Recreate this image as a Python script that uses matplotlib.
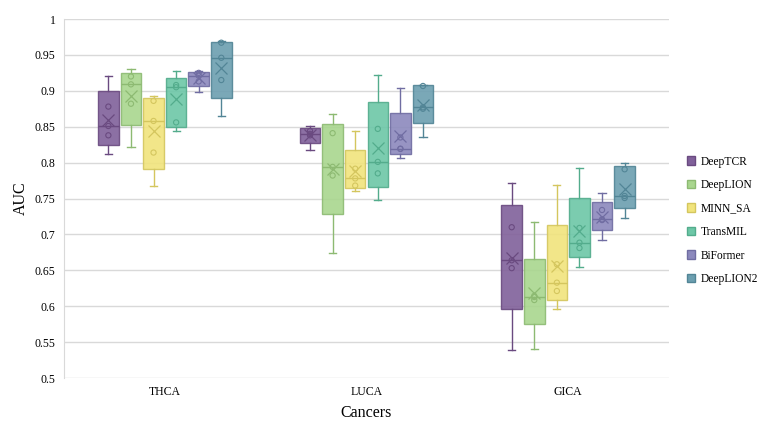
import numpy as np
import matplotlib
matplotlib.use("Agg")
import matplotlib.pyplot as plt
from matplotlib.patches import Patch

plt.rcParams['font.family'] = ['Liberation Serif', 'DejaVu Serif']

cancers = ['THCA', 'LUCA', 'GICA']
models = ['DeepTCR', 'DeepLION', 'MINN_SA', 'TransMIL', 'BiFormer', 'DeepLION2']
fills = ['#80609A', '#A9D68E', '#F1E47C', '#6DC7A7', '#8C89BD', '#6C9FB0']
edges = ['#6A4A80', '#8DBA72', '#D4C65E', '#53AC8C', '#706DA2', '#528596']

# five AUC values per model (one per fold)
thca = {
    'DeepTCR':   [0.812, 0.838, 0.851, 0.878, 0.921],
    'DeepLION':  [0.822, 0.882, 0.909, 0.920, 0.930],
    'MINN_SA':   [0.768, 0.814, 0.858, 0.886, 0.893],
    'TransMIL':  [0.844, 0.856, 0.905, 0.908, 0.928],
    'BiFormer':  [0.899, 0.913, 0.921, 0.925, 0.928],
    'DeepLION2': [0.865, 0.915, 0.946, 0.967, 0.969],
}
luca = {
    'DeepTCR':   [0.817, 0.838, 0.840, 0.844, 0.851],
    'DeepLION':  [0.674, 0.782, 0.794, 0.841, 0.867],
    'MINN_SA':   [0.761, 0.768, 0.778, 0.7915, 0.8445],
    'TransMIL':  [0.748, 0.785, 0.801, 0.847, 0.922],
    'BiFormer':  [0.806, 0.819, 0.8194, 0.835, 0.904],
    'DeepLION2': [0.835, 0.875, 0.877, 0.9067, 0.9085],
}
gica = {
    'DeepTCR':   [0.539, 0.653, 0.664, 0.710, 0.771],
    'DeepLION':  [0.541, 0.6086, 0.6128, 0.6144, 0.717],
    'MINN_SA':   [0.5957, 0.6212, 0.6328, 0.6584, 0.7688],
    'TransMIL':  [0.655, 0.681, 0.6885, 0.709, 0.793],
    'BiFormer':  [0.6922, 0.720, 0.721, 0.734, 0.7572],
    'DeepLION2': [0.7224, 0.7507, 0.7535, 0.7907, 0.800],
}
results = [thca, luca, gica]

pitch = 0.112
width = 0.102

fig = plt.figure(figsize=(7.62, 4.23), dpi=100)
ax = fig.add_axes([64 / 762, 45 / 423, 605 / 762, 359 / 423])

for i, res in enumerate(results):
    for j, m in enumerate(models):
        vals = np.sort(np.array(res[m]))
        # excel style exclusive quartiles
        q1, med, q3 = np.percentile(vals, [25, 50, 75], method='weibull')
        st = dict(med=med, q1=q1, q3=q3, whislo=vals.min(), whishi=vals.max(),
                  mean=vals.mean(), fliers=[])
        pos = i + 0.5 + (j - 2.5) * pitch
        ax.bxp([st], positions=[pos], widths=width, patch_artist=True,
               showmeans=True, showfliers=False, manage_ticks=False,
               boxprops=dict(facecolor=fills[j], edgecolor=edges[j], linewidth=1, alpha=0.9),
               medianprops=dict(color=edges[j], linewidth=1),
               whiskerprops=dict(color=edges[j], linewidth=1),
               capprops=dict(color=edges[j], linewidth=1),
               capwidths=width * 0.35,
               meanprops=dict(marker='x', markeredgecolor=edges[j], markersize=8.5,
                              markeredgewidth=0.9))
        # inner points only (whisker ends carry no marker)
        inner = vals[1:-1]
        ax.scatter(np.full(len(inner), pos), inner, s=14, facecolors='none',
                   edgecolors=edges[j], linewidths=0.8, zorder=4)

ax.set_xlim(0, 3)
ax.set_ylim(0.5, 1)
ax.set_yticks(np.arange(0.5, 1.001, 0.05))
ax.set_yticklabels(['0.5', '0.55', '0.6', '0.65', '0.7', '0.75', '0.8', '0.85',
                    '0.9', '0.95', '1'], fontsize=8.5)
ax.set_xticks([0.5, 1.5, 2.5])
ax.set_xticklabels(cancers, fontsize=8.5)
ax.tick_params(length=0, pad=6)
ax.grid(axis='y', color='#D9D9D9', linewidth=1)
ax.set_axisbelow(True)
for s in ['top', 'right', 'bottom']:
    ax.spines[s].set_visible(False)
ax.spines['left'].set_color('#D9D9D9')
ax.set_ylabel('AUC', fontsize=11.5, labelpad=4)
ax.set_xlabel('Cancers', fontsize=11.5, labelpad=5)

handles = [Patch(facecolor=fills[j], edgecolor=edges[j], label=m) for j, m in enumerate(models)]
fig.legend(handles=handles, loc='center left', bbox_to_anchor=(682 / 762, 0.479),
           frameon=False, fontsize=8.3, handlelength=0.75, handleheight=0.75,
           handletextpad=0.45, labelspacing=1.0, borderaxespad=0)

fig.savefig('out.png', dpi=100)
